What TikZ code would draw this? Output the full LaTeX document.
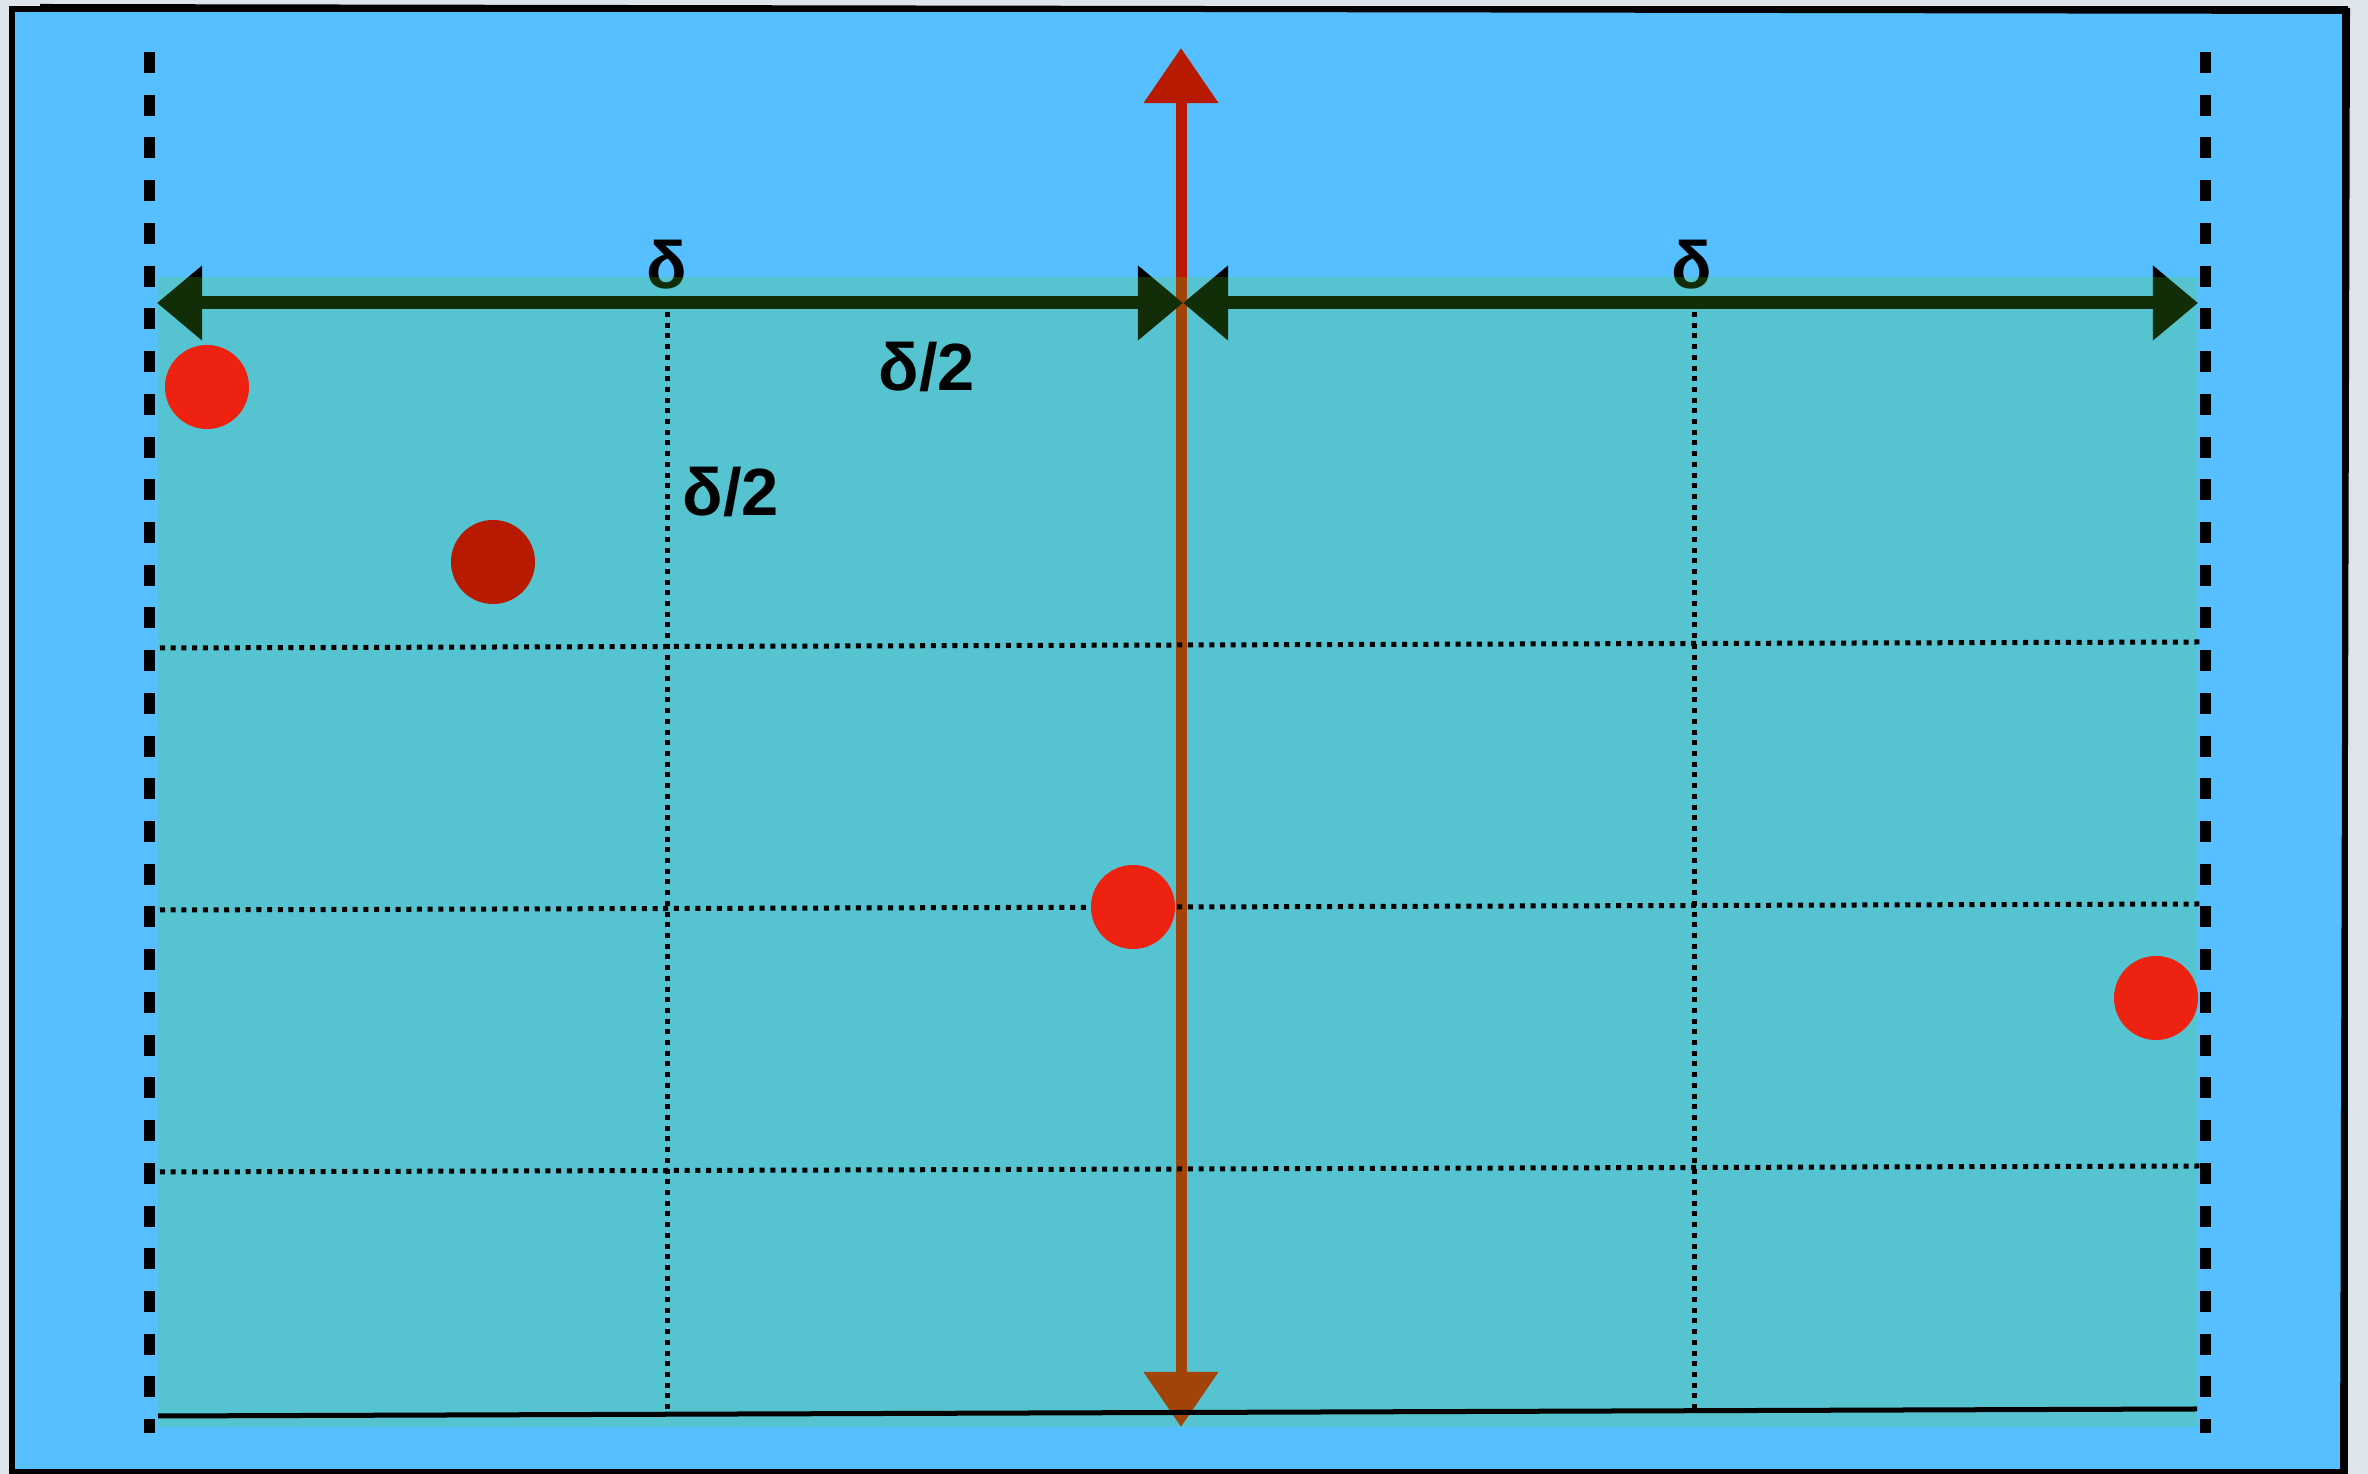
\documentclass[tikz,border=0pt]{standalone}
\usepackage{fontspec}
\setmainfont{Liberation Sans}
\usepackage{xcolor}
\usepackage{tikz}
\usetikzlibrary{arrows.meta, positioning, calc}
\definecolor{mypaper}{RGB}{222,229,234}
\definecolor{mysky}{RGB}{85,191,255}
\definecolor{mywash}{RGB}{85,214,41}
\definecolor{myred}{RGB}{238,34,17}
\definecolor{mydeep}{RGB}{184,26,0}
\tikzset{
  border/.style={draw=black, line width=0.06cm},
  fence/.style={draw=black, line width=0.11cm, dash pattern=on 0.21cm off 0.217cm},
  grid/.style={draw=black, line width=0.05cm, dash pattern=on 0.05cm off 0.057cm},
  floor/.style={draw=black, line width=0.05cm},
  span/.style={draw=black, line width=0.13cm, {Triangle[length=0.45cm, width=0.72cm]}-{Triangle[length=0.45cm, width=0.72cm]}},
  axis/.style={draw=mydeep, line width=0.11cm, {Triangle[length=0.55cm, width=0.72cm]}-{Triangle[length=0.55cm, width=0.72cm]}},
  dot/.style={circle, fill=myred, minimum size=0.84cm, inner sep=0pt},
  lbl/.style={inner sep=0pt, font=\fontsize{19}{21}\selectfont\bfseries}
}

\begin{document}
\begin{tikzpicture}[x=0.01cm, y=-0.01cm]
  \useasboundingbox (0,0) rectangle (2368,1474);
  \fill [mypaper] (0,0) rectangle (2368,1474);
  \fill [mysky] (12,9) rectangle (2345,1472);
  \draw [border] (12,9) rectangle (2345,1472);
  \draw [border] (40,7) -- (2347,11) -- (2343,1470);

  % side limits
  \coordinate (fl1) at (149.5,52);
  \coordinate (fl2) at (149.5,1433);
  \coordinate (fr1) at (2205,52);
  \coordinate (fr2) at (2205,1433);
  \draw [fence] (fl1) -- (fl2);
  \draw [fence] (fr1) -- (fr2);

  % spans and axis
  \coordinate (leftend) at (157,303);
  \coordinate (mid) at (1183,303);
  \coordinate (rightend) at (2198,303);
  \coordinate (top) at (1181,48);
  \coordinate (bottom) at (1181,1427);
  \draw [axis] (bottom) -- (top);
  \draw [span] (leftend) -- (mid);
  \draw [span] (mid) -- (rightend);

  \node [lbl] (d1) at (667,265) {δ};
  \node [lbl] (d2) at (1692,265) {δ};

  % tinted zone
  \fill [mywash, fill opacity=0.22] (158,277) rectangle (2197,1427);

  % half steps
  \coordinate (g1a) at (160,648);  \coordinate (g1b) at (2200,642);
  \coordinate (g2a) at (160,910);  \coordinate (g2b) at (2200,904);
  \coordinate (g3a) at (160,1172); \coordinate (g3b) at (2200,1166);
  \coordinate (v1a) at (667,312);  \coordinate (v1b) at (667,1414);
  \coordinate (v2a) at (1694,312); \coordinate (v2b) at (1694,1410);
  \draw [grid] (g1a) -- (g1b);
  \draw [grid] (g2a) -- (g2b);
  \draw [grid] (g3a) -- (g3b);
  \draw [grid] (v1a) -- (v1b);
  \draw [grid] (v2a) -- (v2b);

  \coordinate (fa) at (158,1416);
  \coordinate (fb) at (2197,1409);
  \draw [floor] (fa) -- (fb);

  \node [dot] (p1) at (207,387) {};
  \node [dot, fill=mydeep] (p2) at (493,562) {};
  \node [dot] (p3) at (1133,907) {};
  \node [dot] (p4) at (2156,998) {};

  \node [lbl] (h1) at (927,367) {δ/2};
  \node [lbl] (h2) at (731,492) {δ/2};
\end{tikzpicture}
\end{document}
